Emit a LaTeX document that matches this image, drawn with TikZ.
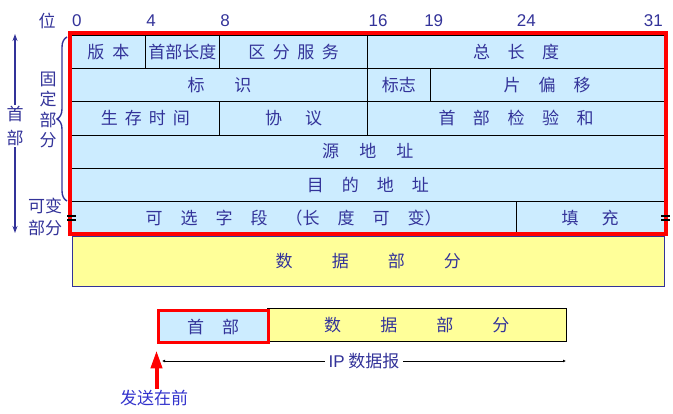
\documentclass[tikz,border=0pt]{standalone}
\usepackage{fontspec}
\setmainfont{Noto Sans CJK SC}
\newfontfamily\latin{Liberation Sans}
\usetikzlibrary{arrows.meta,decorations.pathreplacing}

\definecolor{hdrblue}{RGB}{204,236,255}
\definecolor{paybg}{RGB}{255,255,153}
\definecolor{txtblue}{RGB}{51,51,153}
\definecolor{sndblue}{RGB}{51,51,204}

\def\bw{18.53}
\def\rh{33.2}

\tikzset{
  field/.style={draw=black, line width=.6pt, fill=hdrblue, anchor=north west,
    minimum height=\rh pt, inner sep=0pt, text=txtblue,
    font=\fontsize{17}{17}\selectfont},
  paybox/.style={field, fill=paybg},
  bitlbl/.style={anchor=base west, inner sep=1pt, text=txtblue,
    font=\latin\fontsize{17}{17}\selectfont},
  sidelbl/.style={align=center, inner sep=1pt, text=txtblue,
    font=\fontsize{17}{21}\selectfont},
  updown/.style={draw=txtblue, line width=1.5pt, -{Stealth[length=7pt,width=5pt]}},
}

% field: name, first bit, bits, row, text
\newcommand{\fld}[5]{\node[field, minimum width={#3*\bw pt}] (#1) at ({71+#2*\bw},{35+#4*\rh}) {#5};}

\begin{document}
\begin{tikzpicture}[x=1pt,y=-1pt]
\useasboundingbox (0,0) rectangle (673,414);

% bit numbers
\node[sidelbl] (wei) at (47,21) {位};
\foreach \b in {0,4,8,16,19,24}
  \node[bitlbl] (bit\b) at ({71+\b*\bw},27) {\b};
\node[bitlbl, anchor=base east] (bit31) at (664,27) {31};

% header fields
\fld{ver}{0}{4}{0}{版\hspace{.47em}本}
\fld{hlen}{4}{4}{0}{首部长度}
\fld{ds}{8}{8}{0}{区\hspace{.44em}分\hspace{.44em}服\hspace{.44em}务}
\fld{tlen}{16}{16}{0}{总\hspace{1.03em}长\hspace{1.03em}度}
\fld{ident}{0}{16}{1}{标\hspace{1.76em}识}
\fld{flags}{16}{3.35}{1}{标志}
\fld{frag}{19.35}{12.65}{1}{片\hspace{1.06em}偏\hspace{1.06em}移}
\fld{ttl}{0}{8}{2}{生\hspace{.41em}存\hspace{.41em}时\hspace{.41em}间}
\fld{proto}{8}{8}{2}{协\hspace{1.35em}议}
\fld{csum}{16}{16}{2}{首\hspace{1.03em}部\hspace{1.03em}检\hspace{1.03em}验\hspace{1.03em}和}
\fld{src}{0}{32}{3}{源\hspace{1.18em}地\hspace{1.18em}址}
\fld{dst}{0}{32}{4}{目\hspace{1.06em}的\hspace{1.06em}地\hspace{1.06em}址}
\fld{opt}{0}{24}{5}{可\hspace{1.06em}选\hspace{1.06em}字\hspace{1.06em}段\hspace{1.06em}（长\hspace{1.06em}度\hspace{1.06em}可\hspace{1.06em}变）}
\fld{pad}{24}{8}{5}{填\hspace{1.35em}充}

\draw[red, line width=4pt] (70,33.5) rectangle (665.5,234);

% "=" marks
\foreach \xx in {67,661} {
  \draw[line width=1.3pt] (\xx,216) -- ++(9,0);
  \draw[line width=1.3pt] (\xx,220) -- ++(9,0);
}

\node[paybox, draw=txtblue, minimum width=592pt, minimum height=50pt] (data) at (72,236)
  {数\hspace{2.3em}据\hspace{2.3em}部\hspace{2.3em}分};

% left side
\node[sidelbl, font=\fontsize{17}{24}\selectfont] (hd) at (15,126) {首\\部};
\coordinate (hdtop) at (15,34);
\coordinate (hdbot) at (15,233);
\draw[updown] (hd.north) -- (hdtop);
\draw[updown] (hd.south) -- (hdbot);

\node[sidelbl, font=\fontsize{17}{20.5}\selectfont] (fixed) at (48,110) {固\\定\\部\\分};
\coordinate (brt) at (67,37);
\coordinate (brb) at (67,201);
\draw[txtblue, line width=1.4pt, decorate, decoration={brace, amplitude=10pt}] (brb) -- (brt);
\node[sidelbl, font=\fontsize{17}{22}\selectfont] (var) at (45,217) {可变\\部分};

% datagram
\node[paybox, minimum width=299pt, minimum height=33pt] (pay) at (267,308.5)
  {数\hspace{2.3em}据\hspace{2.3em}部\hspace{2.3em}分};
\node[field, draw=red, line width=3pt, minimum width=110.5pt, minimum height=32.5pt] (hdr) at (156.5,309)
  {首\hspace{1.06em}部};

\coordinate (dl) at (162,361);
\coordinate (dr) at (566,361);
\draw[line width=.6pt, {Latex[length=3pt,width=3pt]}-{Latex[length=3pt,width=3pt]}] (dl) -- node[fill=white, text=txtblue, inner sep=4pt, font=\fontsize{17}{17}\selectfont] (ip) {{\latin IP} 数据报} (dr);

\node[text=sndblue, inner sep=1pt, font=\fontsize{17}{17}\selectfont] (send) at (154,398) {发送在前};
\draw[red, line width=4pt, -{Triangle[length=18pt,width=11pt]}] (send.north -| hdr.south west) -- ([yshift=-6pt]hdr.south west);
\end{tikzpicture}
\end{document}
